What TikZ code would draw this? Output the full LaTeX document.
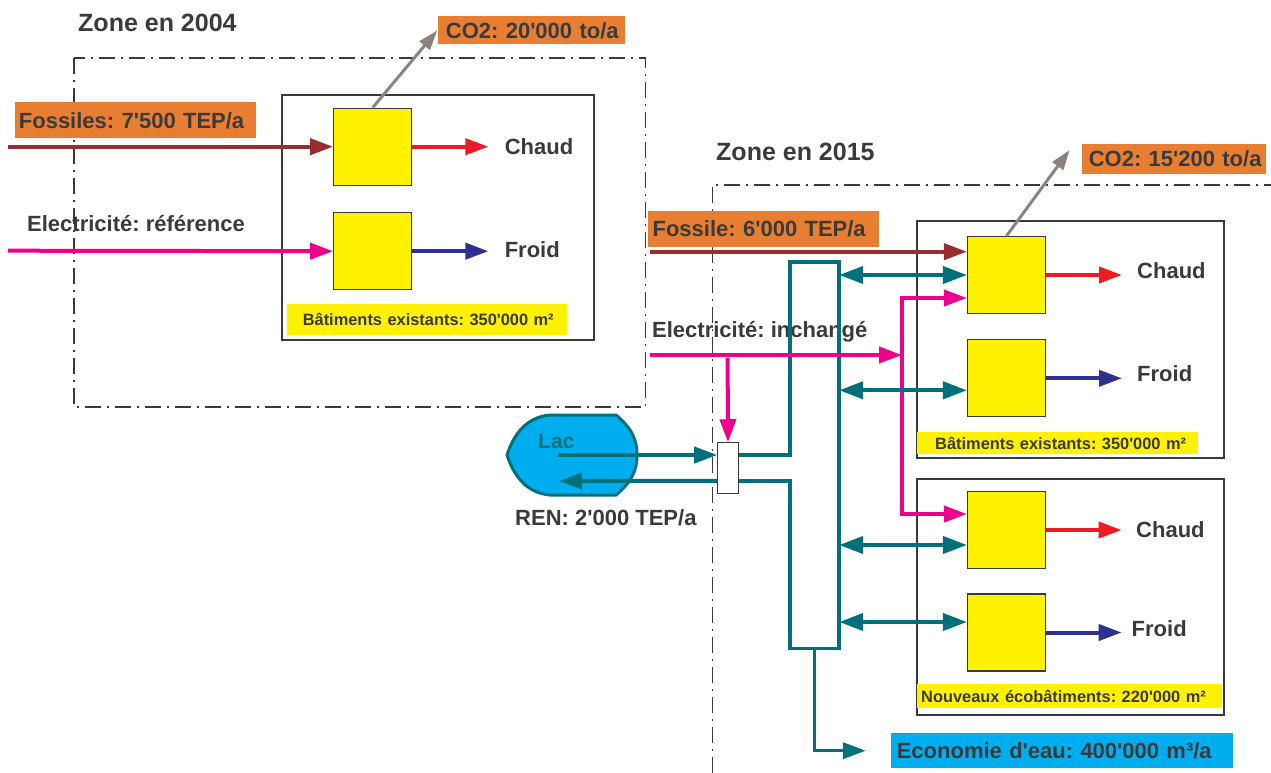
\documentclass[tikz,border=0pt]{standalone}
\usepackage{fontspec}
\setmainfont{Liberation Sans}
\usepackage{xcolor}
\usepackage{tikz}
\usetikzlibrary{arrows.meta,calc}
\frenchspacing

\definecolor{texte}{RGB}{58,58,58}
\definecolor{jaune}{RGB}{255,242,0}
\definecolor{orangef}{RGB}{232,126,50}
\definecolor{fossile}{RGB}{155,45,48}
\definecolor{rouge}{RGB}{237,28,36}
\definecolor{rose}{RGB}{236,0,140}
\definecolor{bleu}{RGB}{46,49,146}
\definecolor{sarcelle}{RGB}{0,112,122}
\definecolor{ciel}{RGB}{0,174,239}
\definecolor{grisco}{RGB}{140,130,128}

\newcommand{\ftitre}{\fontsize{25pt}{28pt}\selectfont\bfseries}
\newcommand{\ftexte}{\fontsize{22pt}{24pt}\selectfont\bfseries}
\newcommand{\fpetit}{\fontsize{16.4pt}{18pt}\selectfont\bfseries}
\newcommand{\apos}{\textquotesingle}

\begin{document}
\begin{tikzpicture}[x=1pt,y=-1pt,
  >={Triangle[length=23pt,width=16pt]},
  zone/.style={draw=texte,line width=1.8pt,dash pattern=on 16pt off 6pt on 2pt off 6pt},
  cadre/.style={draw=texte,line width=2pt},
  unite/.style={draw=texte,fill=jaune,line width=1.2pt,minimum width=78pt,minimum height=77pt,inner sep=0pt},
  txt/.style={anchor=west,inner sep=0pt,text=texte,font=\ftexte},
  plaque/.style={anchor=north west,inner ysep=0pt,align=left,text=texte},
  fl/.style={line width=4pt,->},
  eau/.style={line width=4pt,draw=sarcelle},
  echange/.style={eau,<->,>={Triangle[length=24pt,width=17pt]}},
  co/.style={line width=3pt,draw=grisco,-{Triangle[length=20pt,width=13pt]}}]
  \useasboundingbox (0,0) rectangle (1271,773);

  \draw[zone] (73.8,58.3) rectangle (645.5,407.3);
  \draw[zone] (712.4,773) |- (1271,185);
  \node[txt,font=\ftitre] (z04) at (78,23.3) {Zone en 2004};
  \node[txt,font=\ftitre] (z15) at (716,151.7) {Zone en 2015};

  \draw[cadre] (282,95) rectangle (593.7,340);
  \draw[cadre] (917,221) rectangle (1224,457.7);
  \draw[cadre] (917,479) rectangle (1224,715);

  \node[unite] (A) at (372.7,146.7) {};
  \node[unite] (B) at (372.7,251.2) {};
  \node[unite] (C) at (1006.5,275) {};
  \node[unite] (D) at (1006.5,378.3) {};
  \node[unite] (E) at (1006.5,530) {};
  \node[unite] (F) at (1006.5,632.5) {};

  \node[plaque,fill=orangef,font=\ftexte,inner xsep=4.2pt,text width=232.9pt,minimum height=36pt] (fos1) at (14.5,102.3) {\mbox{Fossiles: 7\apos500 TEP/a}};
  \node[plaque,fill=orangef,font=\ftexte,inner xsep=8.3pt,text width=170.8pt,minimum height=28.3pt] (co2a) at (437.4,16) {\mbox{CO2: 20\apos000 to/a}};
  \node[plaque,fill=orangef,font=\ftexte,inner xsep=7pt,text width=170pt,minimum height=30pt] (co2b) at (1081.6,144) {\mbox{CO2: 15\apos200 to/a}};
  \node[plaque,fill=orangef,font=\ftexte,inner xsep=4.4pt,text width=221.8pt,minimum height=36pt] (fos2) at (648,211) {\mbox{Fossile: 6\apos000 TEP/a}};
  \node[plaque,fill=jaune,font=\fpetit,inner xsep=15.6pt,text width=248.8pt,minimum height=31pt] (bat1) at (287,303.3) {\mbox{Bâtiments existants: 350\apos000 m²}};
  \node[plaque,fill=jaune,font=\fpetit,inner xsep=18pt,text width=245pt,minimum height=22.5pt] (bat2) at (917,431.7) {\mbox{Bâtiments existants: 350\apos000 m²}};
  \node[plaque,fill=jaune,font=\fpetit,inner xsep=4pt,text width=297pt,minimum height=24pt] (bat3) at (917,684) {\mbox{Nouveaux écobâtiments: 220\apos000 m²}};
  \node[plaque,fill=ciel,font=\ftexte,inner xsep=5.8pt,text width=330.4pt,minimum height=35pt] (eco) at (890.8,733) {\mbox{Economie d\apos eau: 400\apos000 m³/a}};

  \node[txt] (elec1) at (27,224) {Electricité: référence};
  \node[txt] (elec2) at (652,332) {Electricité: inchangé};
  \node[txt] (chaud1) at (504.6,146.7) {Chaud};
  \node[txt] (froid1) at (504.6,250) {Froid};
  \node[txt] (chaud2) at (1137,270.7) {Chaud};
  \node[txt] (froid2) at (1137,374) {Froid};
  \node[txt] (chaud3) at (1136,530) {Chaud};
  \node[txt] (froid3) at (1131.5,629) {Froid};
  \node[txt] (ren) at (515,518) {REN: 2\apos000 TEP/a};

  \draw[line width=3pt,draw=sarcelle,fill=ciel] (507,455) to[out=72,in=185] (550,415) -- (616,415)
    to[out=-40,in=90] (637,455) to[out=-90,in=40] (616,495) -- (550,495) to[out=175,in=-72] cycle;
  \node[txt,text=sarcelle,font=\fontsize{21pt}{23pt}\selectfont\bfseries] (lac) at (538,441.7) {Lac};
  \node[draw=texte,fill=white,line width=1pt,minimum width=20.6pt,minimum height=50.3pt,inner sep=0pt] (ech) at (728,467.9) {};
  \node[minimum width=49pt,minimum height=386pt,inner sep=0pt] (coll) at (814.5,455.4) {};

  \coordinate (s1) at (8,146.7);
  \coordinate (s2) at (8,250.7);
  \coordinate (s3) at (650,251.7);
  \coordinate (s4) at (650,355);
  \coordinate (s5) at (727.6,358);
  \coordinate (bus) at (902,355);
  \coordinate (lacA) at (558,455);
  \coordinate (lacB) at (559,481);
  \coordinate (echA) at ([yshift=13pt]ech.east);
  \coordinate (echB) at ([yshift=-13pt]ech.east);
  \coordinate (echC) at ([yshift=-13pt]ech.west);
  \coordinate (pC) at ([yshift=-23pt]C.west);
  \coordinate (pE) at ([yshift=16pt]E.west);
  \coordinate (eD) at ([yshift=-12pt]D.west);
  \coordinate (eE) at ([yshift=-15pt]E.west);
  \coordinate (eF) at ([yshift=10.5pt]F.west);
  \coordinate (co2t) at ([shift={(-12pt,-6pt)}]co2b.north west);

  \draw[fl,fossile] (s1) -- (A.west);
  \draw[fl,rose] (s2) -- (B.west);
  \draw[fl,rouge,shorten >=16.2pt] (A.east) -- (A.east -| chaud1.west);
  \draw[fl,bleu,shorten >=16.2pt] (B.east) -- (B.east -| froid1.west);
  \draw[co] (A.north) -- (co2a.west);

  \draw[fl,fossile] (s3) -- (s3 -| C.west);
  \draw[fl,rouge,shorten >=15pt] (C.east) -- (C.east -| chaud2.west);
  \draw[fl,bleu,shorten >=15pt] (D.east) -- (D.east -| froid2.west);
  \draw[fl,rouge,shorten >=14.3pt] (E.east) -- (E.east -| chaud3.west);
  \draw[fl,bleu,shorten >=9.8pt] (F.east) -- (F.east -| froid3.west);
  \draw[co] (C.north) -- (co2t);

  \draw[eau,line width=3.5pt] (echA) -| (coll.north west) -- (coll.north east)
    -- (coll.south east) -- (coll.south west) |- (echB);
  \draw[eau,line width=3.5pt,->,shorten >=25pt] (coll.south) |- (eco.west);
  \draw[eau,->] (lacA) -- (lacA -| ech.west);
  \draw[eau,->] (echC) -- (lacB);

  \draw[fl,rose] (s4) -- (bus);
  \draw[fl,rose] (bus) |- (pC);
  \draw[fl,rose] (bus) |- (pE);
  \draw[fl,rose] (s5) -- (ech.north);

  \draw[echange] (coll.east |- C.west) -- (C.west);
  \draw[echange] (coll.east |- eD) -- (eD);
  \draw[echange] (coll.east |- eE) -- (eE);
  \draw[echange] (coll.east |- eF) -- (eF);
\end{tikzpicture}
\end{document}
